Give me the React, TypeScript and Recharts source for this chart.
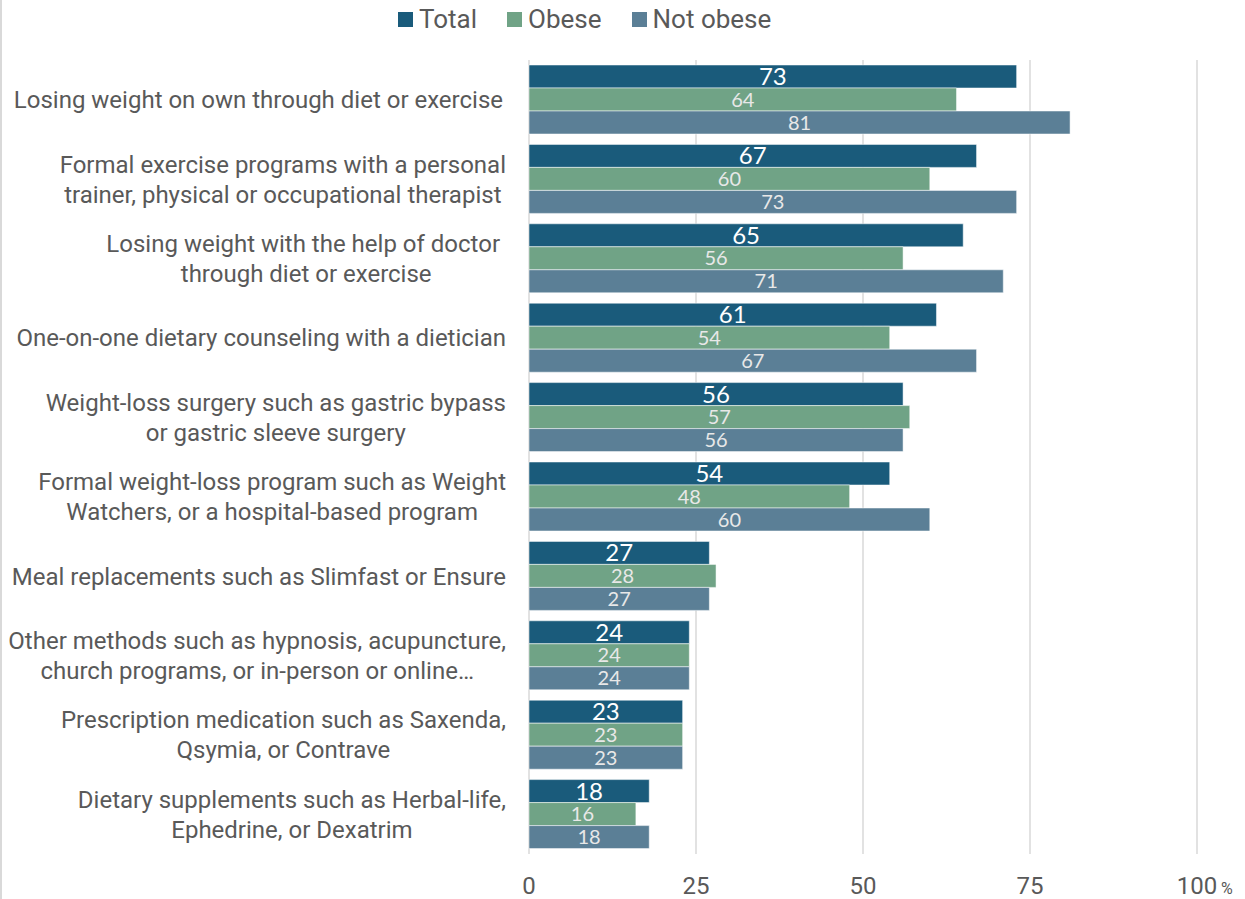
import React from "react";
import { BarChart, Bar, XAxis, YAxis, CartesianGrid, LabelList } from "recharts";

const categories = [
  "Losing weight on own through diet or exercise ",
  "Formal exercise programs with a personal|trainer, physical or occupational therapist",
  "Losing weight with the help of doctor |through diet or exercise",
  "One-on-one dietary counseling with a dietician",
  "Weight-loss surgery such as gastric bypass|or gastric sleeve surgery",
  "Formal weight-loss program such as Weight|Watchers, or a hospital-based program",
  "Meal replacements such as Slimfast or Ensure",
  "Other methods such as hypnosis, acupuncture,|church programs, or in-person or online…",
  "Prescription medication such as Saxenda,|Qsymia, or Contrave",
  "Dietary supplements such as Herbal-life,|Ephedrine, or Dexatrim",
];
const total = [73, 67, 65, 61, 56, 54, 27, 24, 23, 18];
const obese = [64, 60, 56, 54, 57, 48, 28, 24, 23, 16];
const notObese = [81, 73, 71, 67, 56, 60, 27, 24, 23, 18];
const xTicks = [0, 25, 50, 75, 100];

const data = categories.map((name, i) => ({
  name,
  total: total[i],
  obese: obese[i],
  notObese: notObese[i],
}));

const TEXT = "#595959";
const FONT = "Roboto, sans-serif";
const LABEL_FONT = "Lato, sans-serif";

let ctx: CanvasRenderingContext2D | null = null;
function measure(s: string, font: string) {
  if (!ctx) ctx = document.createElement("canvas").getContext("2d");
  if (!ctx) return s.length * 11;
  ctx.font = font;
  return ctx.measureText(s).width;
}

function CategoryTick(props: any) {
  const { y, payload } = props;
  const lines: string[] = String(payload.value).split("|");
  const w = Math.max(...lines.map((l) => measure(l, "24px Roboto")));
  const cx = 506 - w / 2;
  const lh = 30;
  const start = y - ((lines.length - 1) * lh) / 2;
  return (
    <text textAnchor="middle" fill={TEXT} fontSize={24} fontFamily={FONT}>
      {lines.map((l, i) => (
        <tspan key={i} x={cx} y={start + i * lh} dy="0.35em">
          {l}
        </tspan>
      ))}
    </text>
  );
}

function ValueTick(props: any) {
  const { x, payload } = props;
  return (
    <g>
      <text x={x} y={894} textAnchor="middle" fill={TEXT} fontSize={24} fontFamily={FONT}>
        {payload.value}
      </text>
      {payload.value === 100 && (
        <text x={x + 24} y={894} textAnchor="start" fill={TEXT} fontSize={16} fontFamily={FONT}>
          %
        </text>
      )}
    </g>
  );
}

const series = [
  { key: "total", name: "Total", color: "#1a5b7b", labelSize: 24, labelColor: "#ffffff" },
  { key: "obese", name: "Obese", color: "#70a386", labelSize: 20, labelColor: "#e8e8e8" },
  { key: "notObese", name: "Not obese", color: "#5b7f96", labelSize: 20, labelColor: "#e8e8e8" },
];

export default function App() {
  document.body.style.margin = "0";
  return (
    <div style={{ position: "relative", width: 1245, height: 899, background: "#fff", borderLeft: "2px solid #d9d9d9", boxSizing: "border-box" }}>
      <div
        style={{
          position: "absolute",
          top: 4,
          left: 396,
          display: "flex",
          gap: 30,
          fontFamily: FONT,
          fontSize: 26,
          color: TEXT,
          alignItems: "center",
        }}
      >
        {series.map((s) => (
          <div key={s.key} style={{ display: "flex", alignItems: "center", gap: 6 }}>
            <span style={{ width: 15, height: 15, background: s.color, display: "inline-block" }} />
            <span>{s.name}</span>
          </div>
        ))}
      </div>
      <div style={{ position: "absolute", left: -2, top: 0 }}>
        <BarChart
          width={1245}
          height={899}
          data={data}
          layout="vertical"
          margin={{ top: 60, right: 48, bottom: 0, left: 0 }}
          barGap={0}
          barSize={23}
        >
          <CartesianGrid horizontal={false} stroke="#d9d9d9" strokeWidth={1.5} />
          <XAxis
            type="number"
            domain={[0, 100]}
            ticks={xTicks}
            axisLine={false}
            tickLine={false}
            height={45}
            tick={<ValueTick />}
            interval={0}
          />
          <YAxis
            type="category"
            dataKey="name"
            width={529}
            axisLine={false}
            tickLine={false}
            tick={<CategoryTick />}
            interval={0}
          />
          {series.map((s) => (
            <Bar
              key={s.key}
              dataKey={s.key}
              name={s.name}
              fill={s.color}
              stroke="#ffffff"
              strokeOpacity={0.5}
              strokeWidth={1}
              isAnimationActive={false}
            >
              <LabelList
                dataKey={s.key}
                position="center"
                fill={s.labelColor}
                fontSize={s.labelSize}
                fontFamily={LABEL_FONT}
              />
            </Bar>
          ))}
        </BarChart>
      </div>
    </div>
  );
}
